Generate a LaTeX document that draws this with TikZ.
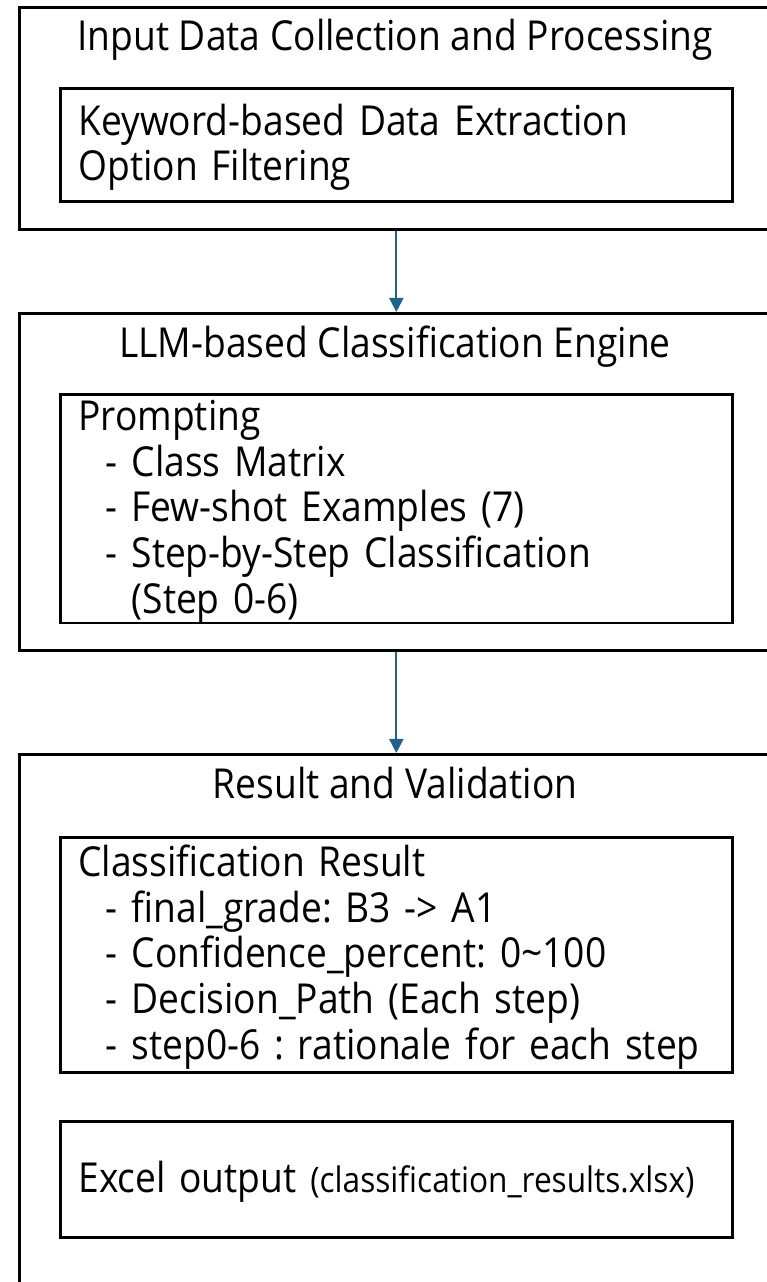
\documentclass[tikz,border=0pt]{standalone}
\usepackage{fontspec}
\setmainfont[FakeStretch=0.9]{Open Sans}
\usetikzlibrary{arrows.meta, positioning, calc}

\definecolor{flowblue}{RGB}{31,99,140}
\newcommand{\subline}[1]{\hspace*{0.55cm}- #1}
\newcommand{\contline}[1]{\hspace*{0.55cm}\phantom{- }#1}

\begin{document}
\frenchspacing
\begin{tikzpicture}[
  x=0.02cm, y=-0.02cm,
  stage/.style = {draw, line width=1.6pt, anchor=north west, minimum width=15.5cm, inner sep=0pt},
  title/.style = {anchor=base, font=\fontsize{23.5}{26}\selectfont},
  inbox/.style = {draw, line width=1.6pt, anchor=north west, minimum width=13.44cm,
                  text width=12.72cm, align=left, inner xsep=0.36cm, inner ysep=0pt,
                  text height=0.72cm, font=\fontsize{23.5}{26}\selectfont},
  arrow/.style = {draw=flowblue, line width=1.2pt, -{Triangle[width=8pt, length=8pt]}}
]
\useasboundingbox (0,0) rectangle (767,1282);

%--------------------------------------------------
% Stages (outer boxes)
%--------------------------------------------------
\node[stage, minimum height=4.44cm] (stage1) at (18,6) {};
\node[stage, minimum height=6.74cm] (stage2) at (18,312) {};
\node[stage, minimum height=10.94cm] (stage3) at (18,753) {};

\node[title] (title1) at (395,50) {Input Data Collection and Processing};
\node[title] (title2) at (395,357) {LLM-based Classification Engine};
\node[title] (title3) at (395,798) {Result and Validation};

%--------------------------------------------------
% Inner boxes
%--------------------------------------------------
\node[inbox, minimum height=2.26cm] (extract) at (59,87)
  {Keyword-based Data Extraction\\Option Filtering};

\node[inbox, minimum height=4.5cm] (prompting) at (59,393)
  {Prompting\\
   \subline{Class Matrix}\\
   \subline{Few-shot Examples (7)}\\
   \subline{Step-by-Step Classification}\\
   \contline{(Step 0-6)}};

\node[inbox, minimum height=4.7cm] (result) at (59,836)
  {Classification Result\\
   \subline{final\_grade: B3 -> A1}\\
   \subline{Confidence\_percent: 0\textasciitilde100}\\
   \subline{Decision\_Path (Each step)}\\
   \subline{step0-6 : rationale for each step}};

\node[inbox, minimum height=2.32cm] (excel) at (59,1120)
  {Excel output {\fontsize{20}{22}\selectfont(classification\_results.xlsx)}};

%--------------------------------------------------
% Connections
%--------------------------------------------------
\draw[arrow] (stage1.south -| extract.south) -- (stage2.north -| extract.south);
\draw[arrow] (stage2.south -| prompting.south) -- (stage3.north -| prompting.south);

\end{tikzpicture}
\end{document}
